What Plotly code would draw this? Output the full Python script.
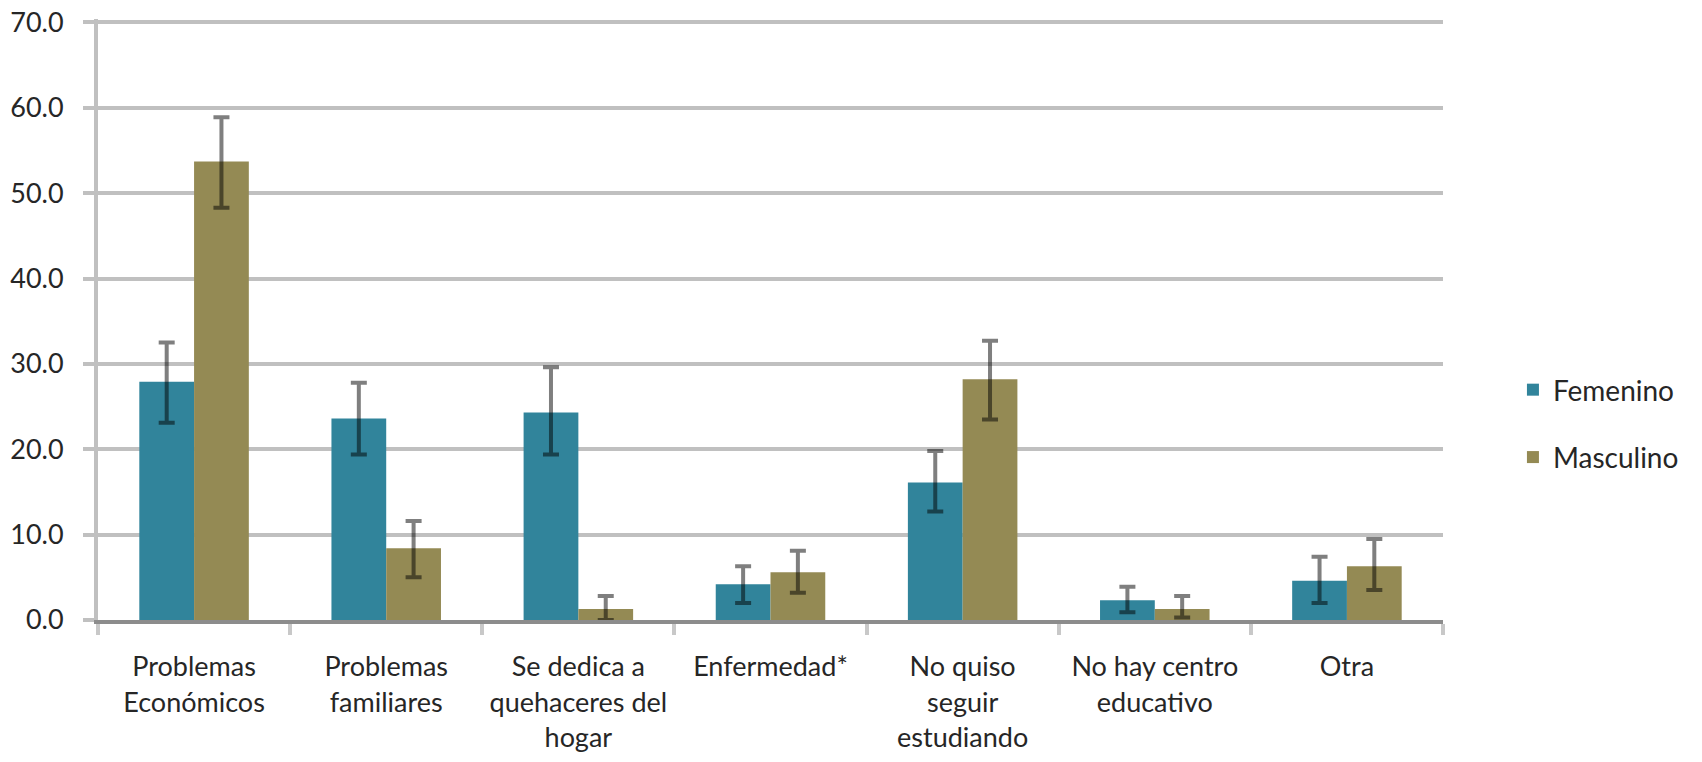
import plotly.graph_objects as go

categories = [
    "Problemas<br>Económicos",
    "Problemas<br>familiares",
    "Se dedica a<br>quehaceres del<br>hogar",
    "Enfermedad*",
    "No quiso<br>seguir<br>estudiando",
    "No hay centro<br>educativo",
    "Otra",
]

femenino = [27.9, 23.6, 24.3, 4.2, 16.1, 2.3, 4.6]
fem_err_up = [4.6, 4.2, 5.3, 2.1, 3.7, 1.6, 2.8]
fem_err_down = [4.8, 4.2, 4.9, 2.2, 3.4, 1.4, 2.6]

masculino = [53.7, 8.4, 1.3, 5.6, 28.2, 1.3, 6.3]
mas_err_up = [5.2, 3.2, 1.5, 2.5, 4.5, 1.5, 3.2]
mas_err_down = [5.4, 3.4, 1.3, 2.4, 4.7, 1.0, 2.8]

fig = go.Figure()

# Femenino bars
fig.add_trace(go.Bar(
    x=categories,
    y=femenino,
    name="Femenino",
    legendgroup="f",
    marker=dict(color="#31849B", line=dict(width=0)),
    error_y=dict(type="data", array=fem_err_up, arrayminus=fem_err_down,
                 color="rgba(0,0,0,0.5)", thickness=4, width=8)
))

# Masculino bars
fig.add_trace(go.Bar(
    x=categories,
    y=masculino,
    name="Masculino",
    legendgroup="m",
    marker=dict(color="#948A54", line=dict(width=0)),
    error_y=dict(type="data", array=mas_err_up, arrayminus=mas_err_down,
                 color="rgba(0,0,0,0.5)", thickness=4, width=8)
))

# page body adds ~8px offset, so margins are shifted to compensate
fig.update_layout(
    width=1702,
    height=762,
    margin=dict(l=90, r=267, t=11, b=150),
    plot_bgcolor="white",
    paper_bgcolor="white",
    barmode="group",
    bargap=0.43,
    bargroupgap=0,
    font=dict(family="Lato, Noto Sans, sans-serif", size=27, color="#262626"),
    legend=dict(
        x=1.052, y=0.327, xanchor="left", yanchor="middle",
        traceorder="grouped", tracegroupgap=28,
        font=dict(size=28), itemwidth=30,
    ),
)

# a little headroom above 70 so its gridline is kept
fig.update_yaxes(
    range=[0, 70.4],
    dtick=10,
    tickformat=".1f",
    showgrid=True,
    gridcolor="#C0C0C0",
    gridwidth=4,
    showline=True,
    linecolor="#C0C0C0",
    linewidth=4,
    ticks="outside",
    ticklen=11,
    tickwidth=4,
    tickcolor="#C0C0C0",
    ticklabelstandoff=14,
    ticklabeloverflow="allow",
    zeroline=False,
    automargin=False,
)

fig.update_xaxes(
    showline=True,
    linecolor="#8C8C8C",
    linewidth=4,
    ticks="outside",
    tickson="boundaries",
    ticklen=11,
    tickwidth=4,
    tickcolor="#C8C8C8",
    ticklabelstandoff=20,
    automargin=False,
)

fig.write_html("out.html")
